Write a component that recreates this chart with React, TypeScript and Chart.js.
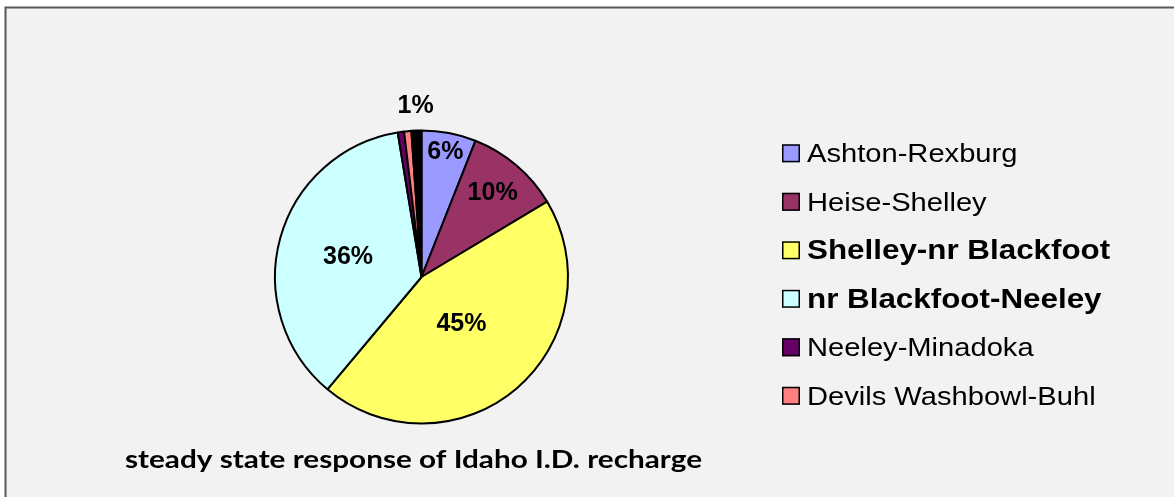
import React, { useEffect, useRef } from "react";
import { Chart, registerables } from "chart.js";

Chart.register(...registerables);

// ---- data ----
const categories = [
  "Ashton-Rexburg",
  "Heise-Shelley",
  "Shelley-nr Blackfoot",
  "nr Blackfoot-Neeley",
  "Neeley-Minadoka",
  "Devils Washbowl-Buhl",
  "",
];
const shares = [6.0, 10.4, 44.7, 36.3, 0.7, 0.8, 1.1];
const chartTitle = "steady state response of Idaho I.D. recharge";

// ---- styles ----
const sliceColors = ["#9999ff", "#993366", "#ffff66", "#ccffff", "#660066", "#ff8080", "#000000"];
const boldLegend = [false, false, true, true, false, false, false];
const showLabel = [true, true, true, true, false, false, true];
const labelRadius = [0.87, 0.75, 0.42, 0.52, 0, 0, 1.17];

const W = 1174;
const H = 497;

const framePlugin = {
  id: "frame",
  beforeDraw(chart: any) {
    const ctx = chart.ctx;
    ctx.save();
    ctx.fillStyle = "#ffffff";
    ctx.fillRect(0, 0, chart.width, chart.height);
    ctx.fillStyle = "#f2f2f2";
    ctx.fillRect(6, 8, chart.width - 6, chart.height - 8);
    ctx.strokeStyle = "#595959";
    ctx.lineWidth = 2;
    ctx.beginPath();
    ctx.moveTo(5.5, chart.height);
    ctx.lineTo(5.5, 7.5);
    ctx.lineTo(chart.width, 7.5);
    ctx.stroke();
    ctx.restore();
  },
};

const labelPlugin = {
  id: "sliceLabels",
  afterDatasetsDraw(chart: any) {
    const ctx = chart.ctx;
    const meta = chart.getDatasetMeta(0);
    const total = shares.reduce((a, b) => a + b, 0);
    ctx.save();
    ctx.font = "bold 25px 'Liberation Sans', Arial, sans-serif";
    ctx.fillStyle = "#000000";
    ctx.textAlign = "center";
    ctx.textBaseline = "middle";
    meta.data.forEach((arc: any, i: number) => {
      if (!showLabel[i]) return;
      const p = arc.getProps(["x", "y", "startAngle", "endAngle", "outerRadius"], true);
      const mid = (p.startAngle + p.endAngle) / 2;
      const r = p.outerRadius * labelRadius[i];
      const pct = Math.round((shares[i] / total) * 100);
      ctx.fillText(pct + "%", p.x + Math.cos(mid) * r, p.y + Math.sin(mid) * r);
    });
    ctx.restore();
  },
};

const legendPlugin = {
  id: "customLegend",
  afterDraw(chart: any) {
    const ctx = chart.ctx;
    ctx.save();
    const boxX = 782;
    const textX = 807;
    const firstBase = 162.3;
    const step = 48.5;
    let row = 0;
    categories.forEach((name, i) => {
      if (!name) return;
      const base = firstBase + row * step;
      row++;
      ctx.fillStyle = sliceColors[i];
      ctx.fillRect(boxX, base - 18, 18, 18);
      ctx.strokeStyle = "#000000";
      ctx.lineWidth = 1.5;
      ctx.strokeRect(boxX + 0.75, base - 17.25, 16.5, 16.5);
      ctx.fillStyle = "#000000";
      ctx.font = boldLegend[i]
        ? "bold 28px 'Liberation Sans', Arial, sans-serif"
        : "26px 'Liberation Sans', Arial, sans-serif";
      ctx.textAlign = "left";
      ctx.textBaseline = "alphabetic";
      ctx.save();
      ctx.translate(textX, base);
      ctx.scale(1.12, 1);
      ctx.fillText(name, 0, 0);
      ctx.restore();
    });
    // title
    ctx.font = "bold 24px Lato, 'Open Sans', sans-serif";
    ctx.fillStyle = "#000000";
    ctx.textAlign = "left";
    ctx.textBaseline = "alphabetic";
    const targetW = 577;
    const m = ctx.measureText(chartTitle).width;
    const sx = targetW / m;
    ctx.save();
    ctx.translate(125, 467.7);
    ctx.scale(sx, 1);
    ctx.fillText(chartTitle, 0, 0);
    ctx.restore();
    ctx.restore();
  },
};

export default function App() {
  const ref = useRef<HTMLCanvasElement | null>(null);
  useEffect(() => {
    if (!ref.current) return;
    const chart = new Chart(ref.current, {
      type: "pie",
      data: {
        labels: categories,
        datasets: [
          {
            data: shares,
            backgroundColor: sliceColors,
            borderColor: "#000000",
            borderWidth: 2,
            radius: 146.5,
          } as any,
        ],
      },
      options: {
        animation: false,
        responsive: false,
        devicePixelRatio: 1,
        layout: { padding: { left: 100, right: 431, top: 100, bottom: 43 } },
        plugins: {
          legend: { display: false },
          title: { display: false },
          tooltip: { enabled: false },
        },
      },
      plugins: [framePlugin, labelPlugin, legendPlugin],
    });
    return () => chart.destroy();
  }, []);
  return (
    <div style={{ position: "absolute", left: 0, top: 0, width: W, height: H }}>
      <canvas ref={ref} width={W} height={H} />
    </div>
  );
}
